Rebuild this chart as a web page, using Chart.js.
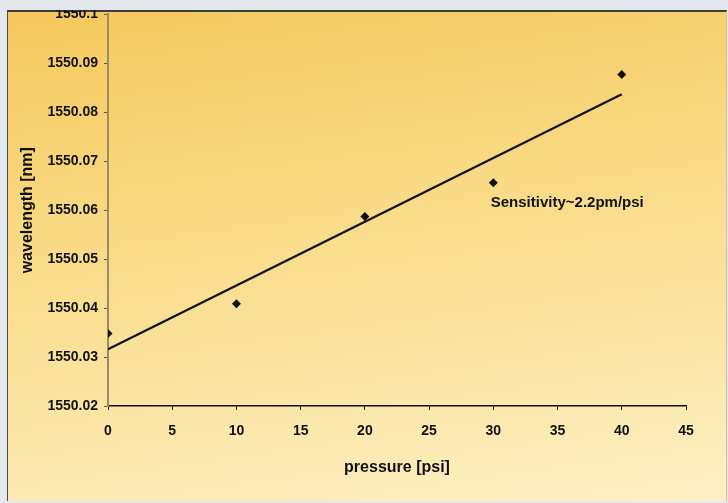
<!DOCTYPE html>
<html>
<head>
<meta charset="utf-8">
<script src="https://cdn.jsdelivr.net/npm/chart.js@4.4.0/dist/chart.umd.min.js"></script>
<style>
  body { margin: 0; background: #e2e8eb; width: 728px; height: 503px; overflow: hidden; }
  #panel {
    position: absolute; left: 7px; top: 10px; width: 718px; height: 489px;
    border-left: 1px solid #4a4a4a; border-top: 2px solid #3c3c3c; border-right: 1px solid #c9c2a8;
    background: linear-gradient(172deg, #f5c85c 0%, #f9dc8a 45%, #fdf0c4 100%);
  }
  #topStrip { position: absolute; left: 0; top: 0; width: 728px; height: 10px; background: #e2e8eb; z-index: 3; }
  #wrap { position: absolute; left: 0; top: 0; width: 728px; height: 503px; z-index: 2; }
</style>
</head>
<body>
<div id="panel"></div>
<div id="wrap"><canvas id="myChart" width="728" height="503"></canvas></div>
<div id="topStrip"></div>
<script>
// measured points
let pressure = [0, 10, 20, 30, 40];
let wavelength = [1550.0348, 1550.0409, 1550.0587, 1550.0656, 1550.0877];
// linear fit line as drawn (end points)
let fitX = [0, 40];
let fitY = [1550.0316, 1550.0837];
let xTicks = [0, 5, 10, 15, 20, 25, 30, 35, 40, 45];
let yTicks = [1550.02, 1550.03, 1550.04, 1550.05, 1550.06, 1550.07, 1550.08, 1550.09, 1550.1];
let note = "Sensitivity~2.2pm/psi";
let notePos = { x: 29.8, y: 1550.0614 };

let tickFont = { size: 14, weight: 'bold', family: "Liberation Sans" };
let titleFont = { size: 16, weight: 'bold', family: "Liberation Sans" };

const notePlugin = {
  id: 'note',
  afterDatasetsDraw(chart) {
    let c = chart.ctx;
    let px = chart.scales.x.getPixelForValue(notePos.x);
    let py = chart.scales.y.getPixelForValue(notePos.y);
    c.save();
    c.font = "bold 15px 'Liberation Sans'";
    c.fillStyle = '#111';
    c.textAlign = 'left';
    c.textBaseline = 'middle';
    c.fillText(note, px, py);
    c.restore();
  }
};

new Chart(document.getElementById("myChart"), {
  type: "scatter",
  data: {
    datasets: [{
      label: "data",
      data: pressure.map((p, i) => ({ x: p, y: wavelength[i] })),
      pointStyle: 'rectRot',
      pointRadius: 4.5,
      backgroundColor: '#111',
      borderColor: '#111',
      borderWidth: 0
    }, {
      label: "fit",
      data: fitX.map((p, i) => ({ x: p, y: fitY[i] })),
      showLine: true,
      pointRadius: 0,
      borderColor: '#111',
      borderWidth: 2.2
    }]
  },
  options: {
    responsive: false,
    animation: false,
    layout: { padding: { left: 0, right: 42, top: 12, bottom: 0 } },
    plugins: {
      legend: { display: false },
      tooltip: { enabled: false }
    },
    scales: {
      x: {
        type: 'linear',
        min: 0,
        max: 45,
        afterBuildTicks: (s) => { s.ticks = xTicks.map(v => ({ value: v })); },
        afterFit: (s) => { s.height = 97; },
        grid: { drawOnChartArea: false, drawTicks: true, tickLength: 4, color: '#111' },
        border: { color: '#111', width: 1.5 },
        ticks: { color: '#111', padding: 13, maxRotation: 0, font: tickFont },
        title: { display: true, text: 'pressure [psi]', color: '#111', font: titleFont, padding: { top: 0, bottom: 26 } }
      },
      y: {
        type: 'linear',
        min: 1550.02,
        max: 1550.1,
        afterBuildTicks: (s) => { s.ticks = yTicks.map(v => ({ value: v })); },
        afterFit: (s) => { s.width = 108; },
        grid: { drawOnChartArea: false, drawTicks: true, tickLength: 4, color: '#555' },
        border: { color: '#9b8c66', width: 2 },
        ticks: {
          color: '#111',
          padding: 6,
          font: tickFont,
          callback: (v) => String(parseFloat(Number(v).toFixed(2)))
        },
        title: { display: true, text: 'wavelength [nm]', color: '#111', font: titleFont, padding: { top: 18, bottom: 0 } }
      }
    }
  },
  plugins: [notePlugin]
});
</script>
</body>
</html>
